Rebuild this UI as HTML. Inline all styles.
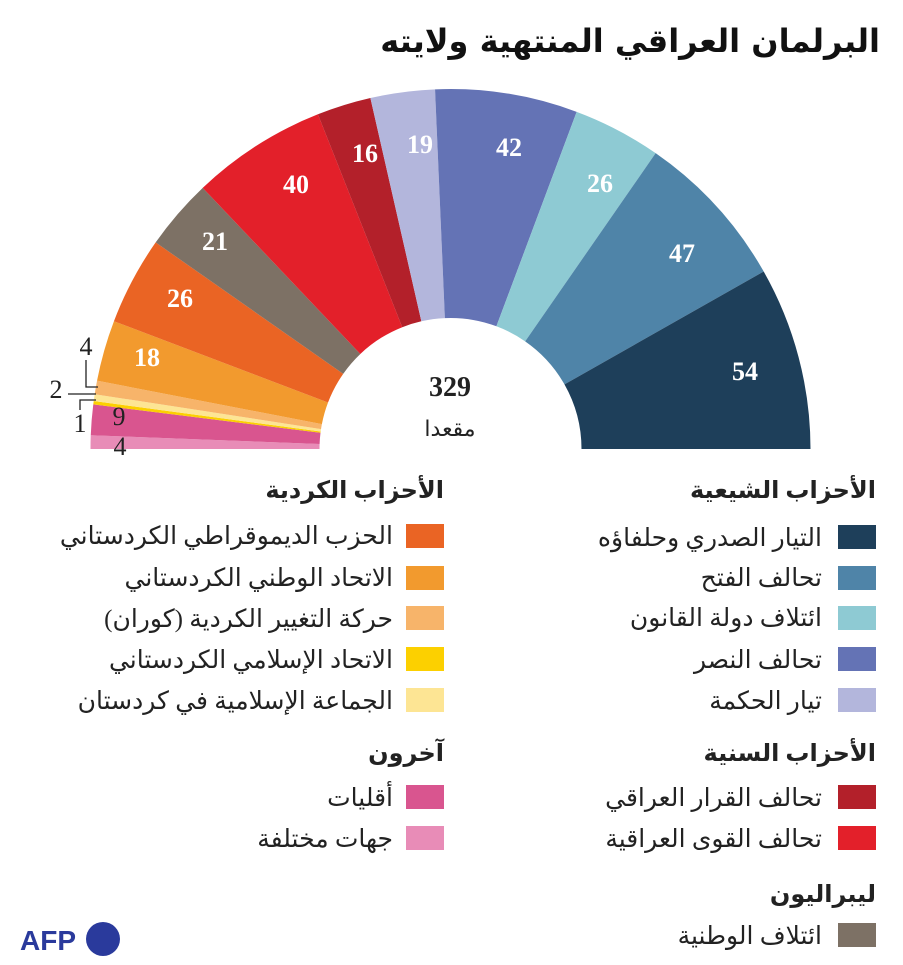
<!DOCTYPE html>
<html><head><meta charset="utf-8"><style>
body{margin:0;background:#fff;}
svg text{font-family:"Liberation Serif","Noto Serif CJK SC","DejaVu Sans",serif;}
.ar{font-family:"DejaVu Sans","Noto Sans CJK SC",sans-serif;}
</style></head><body>
<svg id="s" width="903" height="960" viewBox="0 0 903 960" xmlns="http://www.w3.org/2000/svg">
<g id="arcs"></g>
<g font-weight="bold" font-size="26" fill="#fff" text-anchor="middle">
<text x="745" y="380">54</text><text x="682" y="262">47</text><text x="600" y="192">26</text>
<text x="509" y="156">42</text><text x="420" y="153">19</text><text x="365" y="162">16</text>
<text x="296" y="193">40</text><text x="215" y="250">21</text><text x="180" y="307">26</text>
<text x="147" y="366">18</text>
</g>
<g font-size="26" fill="#222" text-anchor="middle">
<text x="119" y="425">9</text><text x="120" y="455">4</text>
<text x="86" y="355">4</text><text x="56" y="398">2</text><text x="80" y="432">1</text>
</g>
<g stroke="#222" stroke-width="1.3" fill="none">
<polyline points="86,360 86,387 98,387"/><line x1="68" y1="394" x2="96" y2="394"/>
<polyline points="80,410 80,400 96,400"/>
</g>
<text x="450" y="396" text-anchor="middle" font-size="28" font-weight="bold" fill="#222">329</text>
<text x="450" y="436" text-anchor="middle" font-size="22" class="ar" fill="#222">مقعدا</text>
<text x="880" y="52" text-anchor="start" font-size="32" font-weight="bold" class="ar" fill="#111" direction="rtl">البرلمان العراقي المنتهية ولايته</text>
<text x="20" y="950" font-size="28" font-weight="bold" fill="#2a3a9c" style="font-family:'Liberation Sans',sans-serif">AFP</text>
<circle cx="103" cy="939" r="17" fill="#2a3a9c"/>
<g class="ar" font-size="25" fill="#222" text-anchor="start" direction="rtl">
<text x="876" y="498" font-weight="bold" font-size="24">الأحزاب الشيعية</text>
<text x="822" y="546">التيار الصدري وحلفاؤه</text>
<text x="822" y="586">تحالف الفتح</text>
<text x="822" y="626">ائتلاف دولة القانون</text>
<text x="822" y="668">تحالف النصر</text>
<text x="822" y="709">تيار الحكمة</text>
<text x="876" y="761" font-weight="bold" font-size="24">الأحزاب السنية</text>
<text x="822" y="806">تحالف القرار العراقي</text>
<text x="822" y="847">تحالف القوى العراقية</text>
<text x="876" y="902" font-weight="bold" font-size="24">ليبراليون</text>
<text x="822" y="944">ائتلاف الوطنية</text>
<text x="444" y="498" font-weight="bold" font-size="24">الأحزاب الكردية</text>
<text x="393" y="544">الحزب الديموقراطي الكردستاني</text>
<text x="393" y="586">الاتحاد الوطني الكردستاني</text>
<text x="393" y="627">حركة التغيير الكردية (كوران)</text>
<text x="393" y="668">الاتحاد الإسلامي الكردستاني</text>
<text x="393" y="709">الجماعة الإسلامية في كردستان</text>
<text x="444" y="761" font-weight="bold" font-size="24">آخرون</text>
<text x="393" y="806">أقليات</text>
<text x="393" y="847">جهات مختلفة</text>
</g>
<rect x="838" y="525" width="38" height="24" fill="#1e3f5a"/>
<rect x="838" y="566" width="38" height="24" fill="#4f84a8"/>
<rect x="838" y="606" width="38" height="24" fill="#8ecad3"/>
<rect x="838" y="647" width="38" height="24" fill="#6473b5"/>
<rect x="838" y="688" width="38" height="24" fill="#b3b6dc"/>
<rect x="838" y="785" width="38" height="24" fill="#b3202a"/>
<rect x="838" y="826" width="38" height="24" fill="#e3202a"/>
<rect x="838" y="923" width="38" height="24" fill="#7d7165"/>
<rect x="406" y="524" width="38" height="24" fill="#ea6424"/>
<rect x="406" y="566" width="38" height="24" fill="#f29a2e"/>
<rect x="406" y="606" width="38" height="24" fill="#f7b46a"/>
<rect x="406" y="647" width="38" height="24" fill="#fcd000"/>
<rect x="406" y="688" width="38" height="24" fill="#fde594"/>
<rect x="406" y="785" width="38" height="24" fill="#d9558f"/>
<rect x="406" y="826" width="38" height="24" fill="#e88cb7"/>
</svg>
<script>
var data=[[4,"#e88cb7"],[9,"#d9558f"],[1,"#fcd000"],[2,"#fde594"],[4,"#f7b46a"],[18,"#f29a2e"],[26,"#ea6424"],[21,"#7d7165"],[40,"#e3202a"],[16,"#b3202a"],[19,"#b3b6dc"],[42,"#6473b5"],[26,"#8ecad3"],[47,"#4f84a8"],[54,"#1e3f5a"]];
var cx=450.5,cy=449,R=360,r=131,tot=329,acc=0,g=document.getElementById("arcs"),h="";
function p(a,rr){return [cx-rr*Math.cos(a),cy-rr*Math.sin(a)];}
data.forEach(function(d){var a0=acc/tot*Math.PI;acc+=d[0];var a1=acc/tot*Math.PI;
var A=p(a0,R),B=p(a1,R),C=p(a1,r),D=p(a0,r);
h+='<path fill="'+d[1]+'" d="M'+A+' A'+R+','+R+' 0 0 1 '+B+' L'+C+' A'+r+','+r+' 0 0 0 '+D+'Z"/>';});
g.innerHTML=h;
</script>
</body></html>
